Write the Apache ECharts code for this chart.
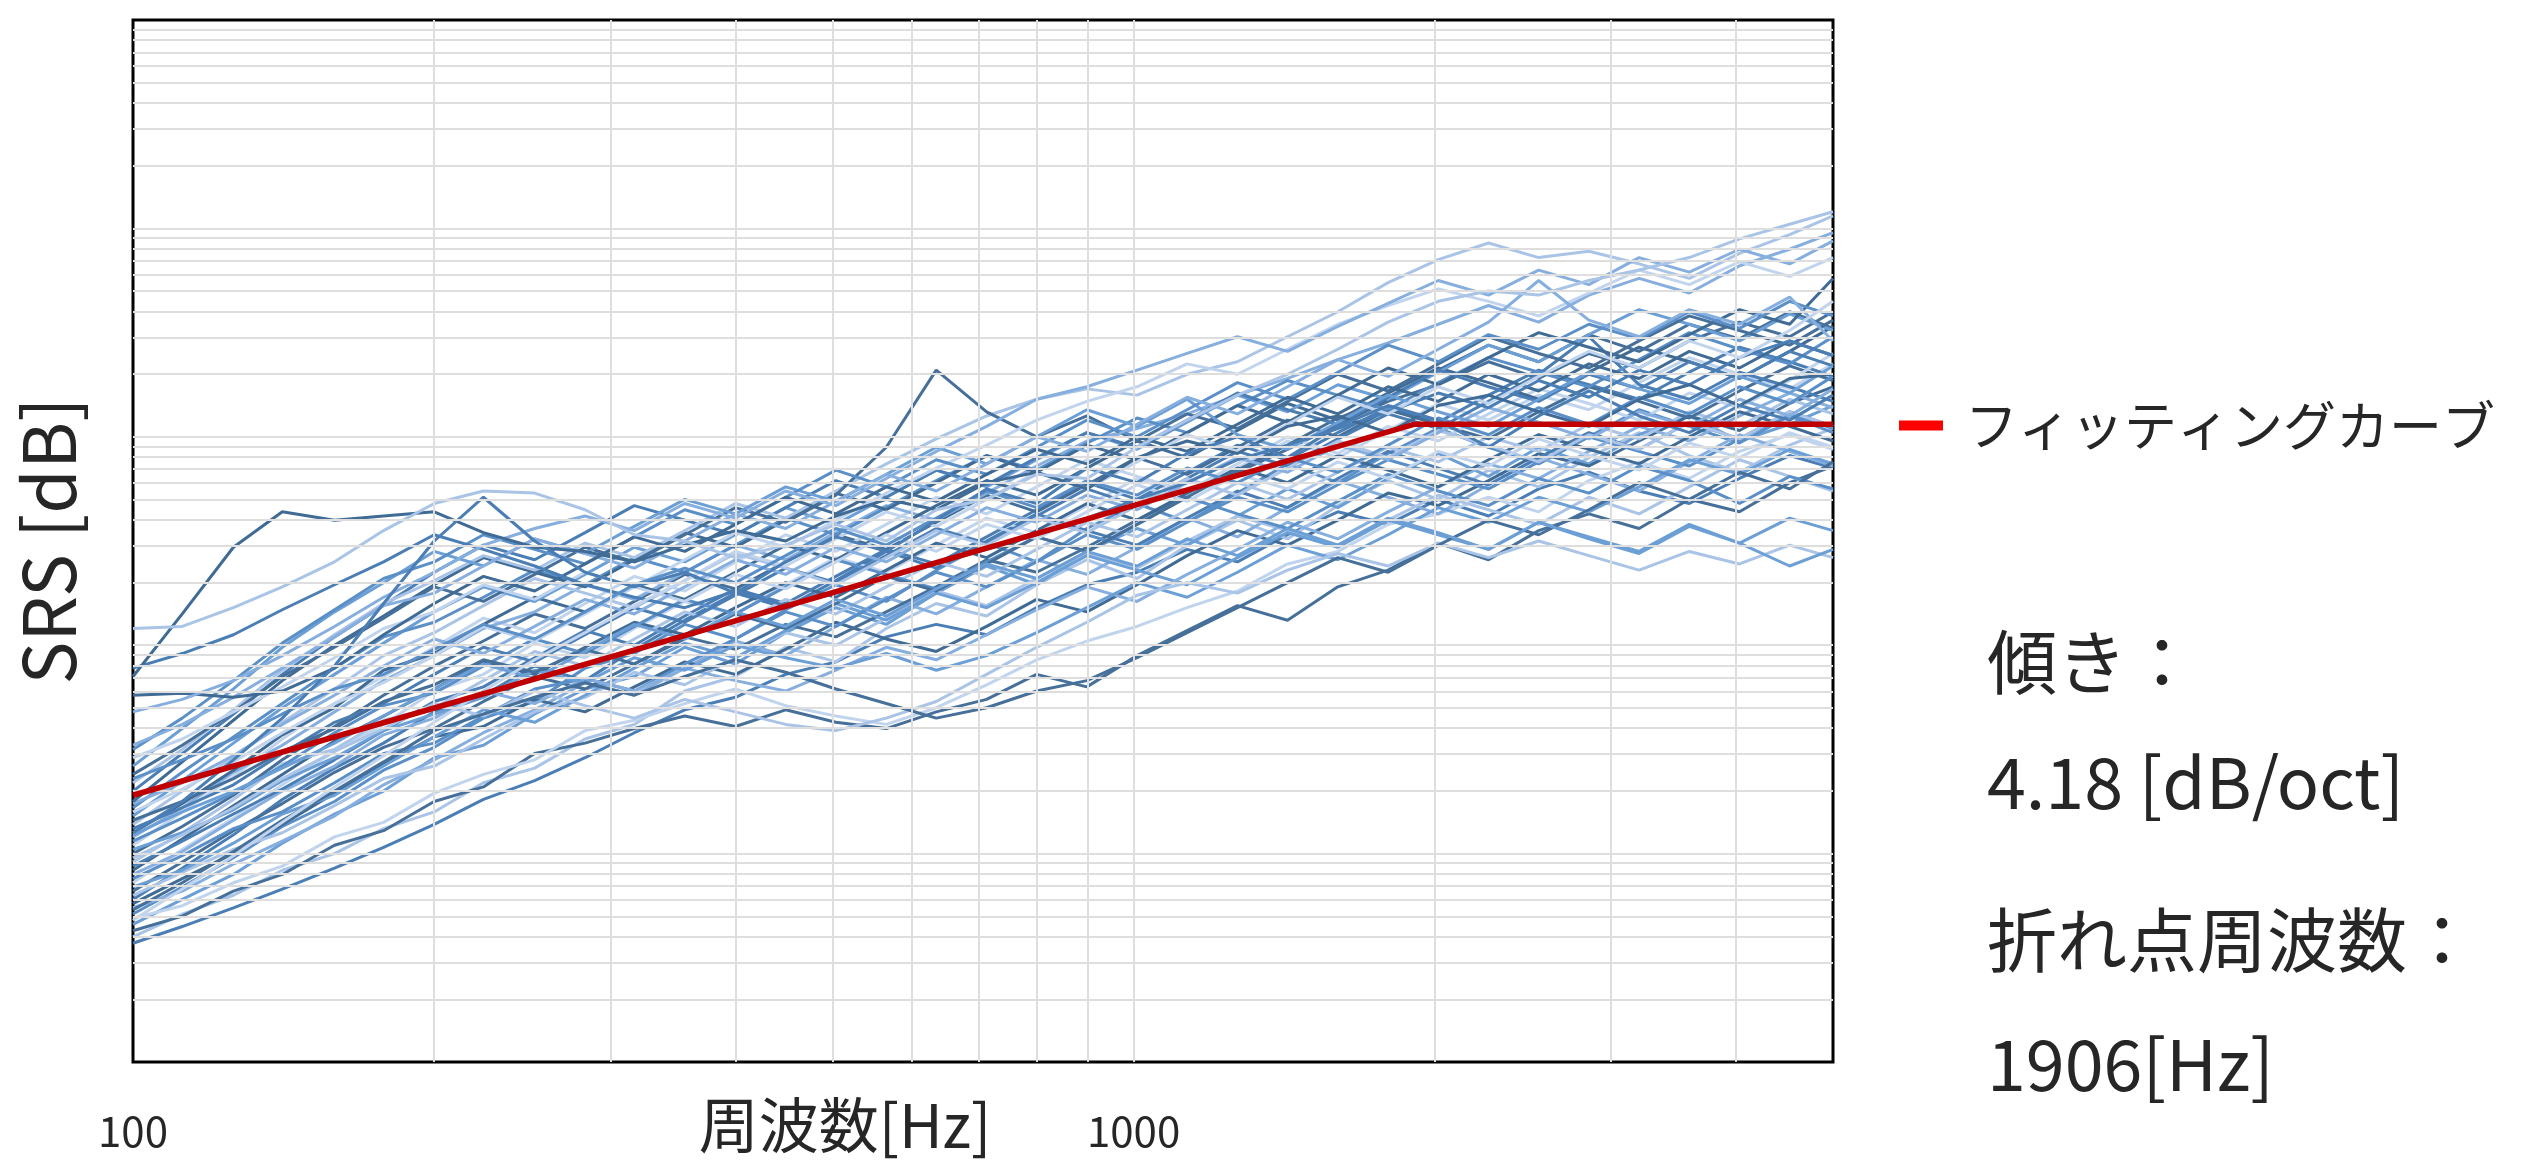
<!DOCTYPE html>
<html>
<head>
<meta charset="utf-8">
<script src="https://cdn.jsdelivr.net/npm/echarts@6/dist/echarts.min.js"></script>
<style>
html,body{margin:0;padding:0;background:#ffffff;}
#chart{width:2544px;height:1169px;}
</style>
</head>
<body>
<div id="chart"></div>
<script>
// ---- data (frequency in Hz, SRS level in dB) ----
const freqs = [100,112,126,141,159,178,200,224,252,283,317,356,400,449,504,566,635,713,800,898,1008,1131,1270,1425,1600,1796,2016,2263,2540,2851,3200,3592,4032,4525,5000];

const s01 = [5.7,6.5,7.4,8.3,9.3,10.3,11.4,12.6,13.5,14.6,15.8,16.9,17.5,18.6,19.2,20.4,21.0,20.5,21.8,22.9,23.5,24.6,24.0,25.3,26.4,25.8,27.0,26.2,27.5,28.3,27.4,26.8,28.0,29.1,28.5];
const s02 = [6.0,7.1,8.0,9.2,10.0,11.2,12.0,13.4,14.1,15.5,16.2,17.8,18.5,19.9,19.2,20.8,22.0,21.4,22.9,24.1,23.2,24.8,26.0,25.1,26.7,27.9,27.0,28.4,27.6,29.0,30.2,29.1,28.3,29.6,30.4];
const s03 = [6.3,7.0,8.2,9.0,10.4,11.1,12.5,13.2,14.8,15.3,16.0,16.6,16.1,16.9,16.3,16.0,16.8,17.4,18.6,18.0,19.5,20.7,21.9,21.2,22.8,23.6,24.9,24.1,25.5,26.3,25.6,27.0,26.4,27.8,28.6];
const s04 = [6.6,7.8,9.0,10.5,11.9,13.0,14.6,15.2,16.7,17.9,18.5,19.9,19.1,20.6,21.8,21.0,22.5,23.8,22.9,24.5,25.6,24.8,26.2,27.5,26.6,28.0,29.2,28.1,29.5,28.7,30.1,31.0,29.8,30.6,31.5];
const s05 = [6.9,7.5,8.6,9.4,10.8,11.5,12.9,13.8,14.5,15.9,16.4,17.2,17.9,17.1,16.6,16.2,17.0,18.1,19.3,20.2,20.9,21.8,22.6,23.9,24.5,25.8,26.3,27.1,26.4,27.9,28.8,28.0,29.3,30.1,29.4];
const s06 = [7.1,8.4,9.8,11.3,12.5,14.0,15.1,16.5,17.3,18.9,19.6,21.0,20.3,21.7,22.9,22.1,23.6,24.9,24.0,25.6,26.8,25.9,27.3,28.7,27.8,29.2,30.4,29.5,28.7,30.0,31.3,30.5,29.7,31.0,30.2];
const s07 = [7.4,8.2,9.5,10.6,11.8,13.3,14.5,15.8,16.9,18.2,17.6,18.9,20.2,19.5,20.9,22.3,21.5,22.8,24.1,23.4,24.7,26.1,25.2,26.6,27.9,27.1,26.3,27.7,29.0,28.2,27.4,28.8,30.1,29.3,28.6];
const s08 = [7.6,8.8,10.0,11.4,12.9,14.3,15.6,16.1,17.4,16.8,18.0,19.2,18.6,19.8,21.1,20.3,19.7,20.9,22.2,21.6,22.9,24.3,25.5,24.8,26.0,27.3,26.7,27.9,29.2,28.6,29.8,31.0,30.3,31.6,32.4];
const s09 = [7.8,9.3,10.9,12.6,14.1,15.3,16.8,17.6,19.0,18.3,19.8,21.2,22.5,21.8,23.1,24.5,23.7,25.0,26.3,25.5,24.8,26.1,27.4,26.6,28.0,29.3,28.5,27.7,29.0,30.2,29.4,30.7,29.9,31.2,30.5];
const s10 = [8.0,9.1,10.2,11.0,12.3,13.6,14.2,15.5,16.8,17.5,18.7,18.1,19.4,20.6,20.0,21.3,22.6,21.9,23.2,24.4,23.7,25.0,26.2,25.5,24.8,26.0,27.2,26.5,25.8,27.1,26.3,27.6,28.9,28.1,27.4];
const s11 = [8.2,9.6,11.1,12.4,13.9,15.1,16.0,17.3,18.5,17.9,19.1,20.4,19.8,21.0,20.4,21.6,22.8,24.1,23.5,24.7,26.0,27.2,28.3,29.4,30.6,31.7,32.5,33.6,32.8,34.0,33.3,34.6,35.5,34.8,36.0];
const s12 = [8.4,9.2,10.5,11.9,12.8,14.2,15.6,16.9,16.3,17.6,18.9,20.1,19.4,20.7,22.0,21.2,22.5,21.8,23.0,24.3,23.6,22.9,24.2,25.4,24.7,26.0,25.3,24.6,25.9,25.2,24.5,25.8,24.9,26.1,25.5];
const s13 = [8.6,10.2,11.7,13.3,14.9,16.2,17.8,18.6,20.1,19.4,20.8,22.1,21.5,22.9,24.2,23.5,24.8,26.1,25.4,26.7,28.0,27.2,28.5,29.8,29.0,30.3,31.6,30.8,32.0,31.3,32.6,33.8,33.0,32.3,33.5];
const s14 = [8.8,9.9,11.2,12.0,13.4,14.8,15.3,16.6,17.9,18.4,17.8,19.1,20.3,21.6,20.9,22.2,23.5,22.8,24.0,25.3,24.6,25.9,27.1,26.4,27.7,28.9,28.2,27.5,28.8,30.0,29.3,28.6,29.9,31.1,30.4];
const s15 = [9.0,10.1,11.6,13.0,14.2,15.7,16.5,17.8,17.2,18.4,17.8,18.9,18.3,17.8,18.8,19.9,19.3,20.5,21.7,22.8,22.1,23.4,24.6,25.9,25.1,26.4,27.6,28.7,28.0,29.3,30.5,29.8,31.0,32.1,31.4];
const s16 = [9.2,10.7,12.3,13.8,15.4,16.6,17.9,19.2,18.6,19.9,21.1,20.5,21.8,23.0,22.3,23.6,24.9,24.2,25.5,26.8,26.0,27.3,28.5,27.8,29.1,28.4,27.6,28.9,30.1,29.4,28.7,30.0,31.2,30.5,29.8];
const s17 = [9.4,10.6,11.9,13.1,14.5,15.9,17.3,18.0,19.4,20.7,20.0,21.4,22.7,22.0,23.3,24.6,23.9,25.2,26.5,27.8,27.0,28.3,29.6,28.9,30.2,31.4,30.7,32.0,33.2,32.5,31.8,33.1,34.3,33.6,32.9];
const s18 = [9.6,11.0,12.6,14.3,15.0,16.4,17.0,18.3,19.7,19.0,20.3,21.6,20.9,22.2,21.5,22.8,24.0,23.3,24.6,25.9,25.2,26.5,27.8,27.0,28.3,29.5,28.8,30.0,29.3,30.6,29.9,31.2,30.5,31.8,31.1];
const s19 = [10.0,11.3,12.8,14.5,16.1,17.6,19.0,20.2,21.5,20.8,22.1,23.4,22.7,24.0,25.3,24.6,25.9,27.2,26.4,27.7,29.0,28.2,29.5,30.8,30.0,31.3,30.6,29.9,31.2,32.4,31.7,30.9,32.2,33.4,32.7];
const s20 = [10.2,11.0,12.1,13.5,14.6,15.9,16.7,17.5,18.8,18.2,19.4,18.8,20.0,19.4,18.9,19.6,18.8,19.5,20.6,21.8,23.0,22.3,23.5,24.8,24.1,25.3,26.6,25.9,27.1,26.4,27.6,28.9,28.2,29.4,28.7];
const s21 = [10.4,12.0,13.7,15.5,17.2,18.5,19.9,21.3,20.6,22.0,23.3,22.6,24.0,25.3,24.5,25.8,27.1,26.3,27.6,28.9,28.1,27.4,28.7,30.0,29.2,30.5,29.8,31.1,32.3,31.6,30.8,32.1,31.4,32.7,34.0];
const s22 = [10.6,11.7,12.9,14.2,15.8,17.1,17.7,19.0,20.3,19.6,20.9,22.2,21.5,22.8,24.1,23.4,22.7,24.0,25.2,24.5,25.8,27.1,26.3,25.6,26.9,28.2,27.4,26.7,28.0,27.3,28.6,27.9,26.8,28.1,27.5];
const s23 = [10.8,12.2,13.9,15.2,16.8,18.3,19.5,20.8,21.6,22.9,22.2,23.5,24.8,24.1,25.4,26.7,26.0,27.3,28.6,29.8,30.4,31.1,32.0,32.8,33.7,34.5,35.4,36.3,35.5,36.8,37.6,36.9,38.2,39.0,39.8];
const s24 = [11.0,12.4,14.0,15.7,17.0,18.8,19.6,21.0,22.3,21.6,22.9,22.2,23.5,24.8,24.1,25.4,26.7,27.9,27.2,28.5,29.8,29.0,30.3,31.6,30.8,32.1,33.3,32.6,31.8,33.1,34.3,33.6,32.8,34.1,35.3];
const s25 = [11.2,12.2,13.3,14.8,16.3,17.2,18.6,19.9,19.2,20.5,21.8,21.1,22.4,23.7,23.0,24.3,25.6,24.9,26.2,27.5,26.7,28.0,29.3,28.6,29.9,31.1,30.4,31.7,33.0,34.8,32.5,31.8,33.1,32.4,31.7];
const s26 = [11.4,13.0,14.6,16.3,17.9,19.5,20.6,21.9,23.2,22.5,21.8,23.1,24.4,23.7,22.9,24.2,25.5,24.8,26.1,25.4,26.7,28.0,27.2,28.5,29.8,29.0,30.3,29.6,28.8,30.1,29.4,30.7,29.9,31.2,30.5];
const s27 = [11.6,12.5,13.6,14.9,16.0,17.3,18.1,19.3,18.7,19.8,19.1,20.3,21.5,20.8,22.0,23.3,22.6,23.9,25.2,24.5,25.8,27.1,28.4,29.6,30.9,31.8,33.2,34.4,33.6,34.9,34.1,35.4,34.7,36.0,35.2];
const s28 = [11.8,13.5,15.3,17.0,18.6,20.1,21.6,22.8,22.1,23.4,24.7,24.0,25.3,26.6,25.8,27.1,28.4,27.6,28.9,30.2,29.4,30.7,32.0,31.2,32.5,31.8,33.1,34.4,33.6,34.9,36.1,35.4,34.6,35.9,35.1];
const s29 = [12.0,13.1,14.4,15.8,17.2,18.2,19.5,20.9,20.2,21.5,22.8,22.1,23.4,22.7,24.0,25.3,24.5,25.8,25.1,26.4,27.7,26.9,28.2,27.5,28.8,28.0,29.3,28.6,29.9,29.1,28.4,29.7,29.0,30.2,29.5];
const s30 = [12.2,13.9,15.6,17.2,18.9,20.4,21.1,22.3,23.6,22.9,24.2,23.5,24.8,26.1,25.3,26.6,27.9,29.1,28.4,29.7,30.9,30.2,31.5,32.7,32.0,31.3,32.6,33.8,33.1,32.4,33.7,35.0,34.2,33.5,34.8];
const s31 = [12.4,13.4,14.7,16.2,17.6,19.0,20.3,19.6,20.9,22.2,21.5,22.8,24.1,23.4,24.7,24.0,25.3,26.6,25.9,27.2,26.5,27.8,29.0,28.3,29.6,28.9,30.2,31.4,30.7,29.9,31.2,30.5,31.8,31.0,32.3];
const s32 = [12.5,14.4,16.4,18.3,20.0,21.4,22.9,24.2,23.5,22.8,24.1,25.4,24.7,26.0,27.3,26.5,27.8,29.1,28.3,29.6,28.9,30.2,31.5,30.7,32.0,33.3,32.5,33.8,35.0,34.3,33.6,34.9,36.1,35.4,37.6];
const s33 = [13.0,14.8,16.7,18.6,20.4,21.9,23.5,24.8,24.1,25.4,26.7,26.0,25.3,26.6,27.9,27.1,28.4,27.7,29.0,30.2,29.5,30.8,32.1,31.3,30.6,31.9,33.2,32.4,31.7,33.0,32.3,33.6,32.8,34.1,33.4];
const s34 = [13.4,15.0,16.9,18.8,20.5,22.0,23.1,24.3,23.6,24.9,24.2,25.5,26.8,26.1,27.4,28.7,29.9,31.0,31.8,32.3,32.0,33.0,33.6,34.8,36.0,37.4,38.5,39.3,38.6,38.9,38.3,37.6,38.8,39.7,40.6];
const s35 = [13.8,15.2,16.8,18.5,19.9,21.3,22.8,22.1,23.4,24.7,24.0,25.3,26.6,25.9,27.2,29.5,33.2,31.2,30.0,31.0,29.8,31.1,30.4,31.7,33.0,32.2,33.5,34.8,34.0,33.3,34.6,35.8,35.1,34.4,35.6];
const s36 = [14.2,16.0,17.9,19.9,21.6,23.0,24.5,23.8,25.1,24.4,25.7,27.0,26.3,27.6,26.9,28.2,29.5,28.7,30.0,31.3,30.5,31.8,30.1,29.4,30.7,32.0,31.2,30.5,31.8,33.1,32.3,31.6,32.9,32.1,33.4];
const s37 = [14.6,15.5,16.8,18.0,19.4,20.8,21.6,22.9,22.2,23.5,22.8,24.1,25.4,24.7,26.0,27.3,28.5,29.6,30.8,31.7,32.4,33.5,33.0,34.2,35.4,36.3,37.1,36.5,35.8,36.9,38.0,37.3,38.4,37.7,38.6];
const s38 = [15.0,16.5,18.3,20.1,21.7,23.2,24.0,25.3,24.6,23.9,25.2,26.5,25.8,27.1,28.4,27.6,28.9,28.2,29.5,30.8,30.0,31.3,32.6,31.8,33.1,34.4,33.6,34.9,34.2,35.4,34.7,36.0,35.2,36.5,35.8];
const s39 = [15.2,16.2,17.5,18.9,20.4,21.9,22.5,23.8,25.1,24.4,23.7,25.0,26.3,25.6,26.9,28.2,27.4,28.7,30.0,29.3,30.6,31.9,31.1,32.4,33.7,32.9,34.2,35.5,37.5,35.6,34.8,36.1,35.4,36.7,34.6];
const s40 = [17.6,17.7,17.5,17.8,18.9,20.5,22.0,23.3,22.6,23.9,25.2,24.5,25.8,27.1,26.3,27.6,26.9,28.2,29.4,28.7,30.0,29.3,30.6,31.9,31.1,32.4,31.7,33.0,32.2,33.5,32.8,34.1,33.3,34.6,33.9];
const s41 = [18.9,19.6,20.5,21.7,22.9,24.0,25.3,24.6,23.8,22.9,22.3,21.8,22.6,21.9,22.5,23.2,23.9,24.6,25.3,26.1,27.0,27.8,28.9,29.6,30.4,31.2,32.1,31.4,32.7,31.9,33.2,32.5,33.8,34.6,33.9];
const s42 = [9.8,10.9,12.2,13.6,14.9,16.0,17.2,16.6,17.8,17.1,16.5,17.4,16.8,16.2,15.9,16.5,17.3,18.6,19.9,21.1,22.4,23.0,22.5,23.6,24.4,23.8,24.9,24.2,25.0,24.3,23.6,24.5,23.9,24.8,24.2];
const s43 = [7.3,8.6,10.1,11.6,13.0,14.4,15.9,16.7,17.5,18.2,17.6,18.5,19.3,18.7,17.9,17.2,16.5,17.0,17.8,18.3,19.4,20.6,21.8,23.0,24.2,23.5,24.8,26.0,25.3,26.5,27.8,27.0,28.3,27.5,28.8];
const s44 = [10.9,12.0,13.0,14.1,15.3,16.6,17.9,19.1,18.4,19.7,21.0,20.3,21.6,20.9,22.2,21.4,22.7,23.9,23.2,24.5,23.8,25.1,24.3,25.6,24.8,26.1,25.4,24.6,25.9,25.1,24.4,25.7,24.9,23.8,24.6];
const s45 = [6.8,8.3,9.9,11.5,13.2,14.7,16.3,17.8,19.3,20.6,21.9,23.1,24.5,23.8,25.1,26.4,25.7,27.0,28.3,27.5,28.8,30.1,29.3,30.6,31.9,31.1,32.4,31.6,32.9,34.1,33.3,34.6,33.8,35.1,36.5];
const s46 = [13.6,14.5,15.5,16.7,17.9,18.6,19.8,21.0,20.3,21.6,22.9,23.7,23.0,24.3,25.6,24.8,26.1,27.4,26.6,27.9,27.2,28.5,27.8,29.0,28.3,29.6,30.9,30.1,31.4,30.6,31.9,31.1,32.4,31.6,32.9];
const s47 = [16.8,17.4,18.3,19.5,20.9,22.3,23.5,24.8,25.6,26.2,25.5,26.8,26.1,27.4,26.7,28.0,29.3,30.5,31.8,32.4,33.2,34.0,34.8,34.1,35.3,36.4,37.5,36.8,38.0,37.3,38.6,37.9,39.0,38.3,39.4];
const s48 = [18.5,21.5,24.7,26.4,26.0,26.2,26.4,25.4,24.7,24.5,24.0,24.8,25.5,25.0,26.2,27.0,26.5,27.8,28.3,27.5,29.0,29.8,29.2,30.5,31.0,30.2,31.5,32.0,31.2,30.5,31.8,32.5,31.5,32.8,33.0];
const s49 = [11.0,12.5,14.5,16.5,19.0,22.0,25.0,27.1,25.0,23.5,22.8,23.5,22.5,24.0,25.2,24.5,26.0,27.5,26.8,28.5,27.8,29.2,30.0,29.0,30.5,31.5,30.8,29.5,31.0,32.2,31.0,30.2,31.5,30.8,32.0];
const s50 = [20.8,20.9,21.8,22.8,24.0,25.5,26.8,27.4,27.3,26.5,25.3,25.0,24.2,24.8,25.8,25.0,26.5,27.0,28.2,28.0,29.5,30.8,32.0,33.0,34.2,35.5,36.5,37.0,36.8,37.5,38.0,38.6,39.5,40.2,40.8];

const curves = [s01,s02,s03,s04,s05,s06,s07,s08,s09,s10,s11,s12,s13,s14,s15,s16,s17,s18,s19,s20,
                s21,s22,s23,s24,s25,s26,s27,s28,s29,s30,s31,s32,s33,s34,s35,s36,s37,s38,s39,s40,
                s41,s42,s43,s44,s45,s46,s47,s48,s49,s50];

// fitting curve (slope 4.18 dB/oct, break point 1906 Hz)
const fitFreqs = [100, 1906, 5000];
const fitDb = [12.8, 30.6, 30.6];

// axis ticks (log grid)
const xGridTicks = [200,300,400,500,600,700,800,900,1000,2000,3000,4000];
const yDecades = [1,10,100,1000,10000];
const yMultipliers = [1,2,3,4,5,6,7,8,9];

const fitName = 'フィッティングカーブ';
const infoLines = ['傾き：', '4.18 [dB/oct]', '折れ点周波数：', '1906[Hz]'];

// ---- build chart ----
const FONT = '"Noto Sans CJK JP", "Noto Sans", sans-serif';
const TEXT = '#262626';
const palette = ['#4a7eb5','#a9c4e6','#46709a','#6b9fd6','#c1d4ee','#5a8fc8','#86aede','#3f6b95'];
const toLin = db => Math.pow(10, db / 10);

const yGridTicks = [];
yDecades.forEach(d => yMultipliers.forEach(m => { const v = d * m; if (v > 1) yGridTicks.push(v); }));

const series = [];
series.push({
  name: 'grid', type: 'line', data: [], silent: true, z: 1,
  markLine: {
    silent: true, animation: false, symbol: ['none', 'none'],
    label: { show: false },
    emphasis: { disabled: true },
    lineStyle: { color: '#dedede', width: 2, type: 'solid' },
    data: yGridTicks.map(v => ({ yAxis: v })).concat(xGridTicks.map(v => ({ xAxis: v })))
  }
});
curves.forEach((c, i) => {
  const col = palette[i % palette.length];
  series.push({
    name: 'SRS ' + (i + 1), type: 'line', symbol: 'none', showSymbol: false,
    silent: true, z: 2, animation: false,
    emphasis: { disabled: true },
    data: c.map((d, j) => [freqs[j], toLin(d)]),
    lineStyle: { width: 3, color: col },
    itemStyle: { color: col }
  });
});
series.push({
  name: fitName, type: 'line', symbol: 'none', showSymbol: false, z: 5, animation: false,
  data: fitDb.map((d, j) => [fitFreqs[j], toLin(d)]),
  lineStyle: { width: 5.5, color: '#c00000' },
  itemStyle: { color: '#ff0000' }
});

const infoY = [662, 782, 940, 1064];
const graphic = infoLines.map((t, i) => ({
  type: 'text', x: 1987, y: infoY[i], silent: true,
  style: { text: t, fontSize: 70, fontFamily: FONT, fill: TEXT, verticalAlign: 'middle', align: 'left' }
}));

const chart = echarts.init(document.getElementById('chart'), null, { renderer: 'canvas' });
chart.setOption({
  animation: false,
  backgroundColor: '#ffffff',
  grid: { left: 133, top: 20, width: 1700, height: 1042, show: true, borderColor: '#000000', borderWidth: 3,
          backgroundColor: 'transparent', containLabel: false, outerBoundsMode: 'none' },
  legend: {
    data: [{ name: fitName, icon: 'rect', itemStyle: { color: '#ff0000' } }],
    left: 1894, top: 394, itemWidth: 44, itemHeight: 10,
    selectedMode: false,
    textStyle: { fontSize: 53, color: TEXT, fontFamily: FONT, padding: [0, 0, 0, 17] }
  },
  xAxis: {
    type: 'log', logBase: 10, min: 100, max: 5000,
    name: '周波数[Hz]', nameLocation: 'middle', nameGap: 33, nameMoveOverlap: false,
    nameTextStyle: { fontSize: 60, color: TEXT, fontFamily: FONT, padding: [0, 276, 0, 0] },
    axisLine: { show: false }, axisTick: { show: false }, splitLine: { show: false },
    axisLabel: { fontSize: 42, color: TEXT, fontFamily: FONT, margin: 48, showMaxLabel: false,
                 formatter: v => String(Math.round(v)) }
  },
  yAxis: {
    type: 'log', logBase: 10, min: 1, max: 100000,
    name: 'SRS [dB]', nameLocation: 'middle', nameGap: 48, nameMoveOverlap: false,
    nameTextStyle: { fontSize: 72, color: TEXT, fontFamily: FONT },
    axisLine: { show: false }, axisTick: { show: false }, splitLine: { show: false },
    axisLabel: { show: false }
  },
  graphic: graphic,
  series: series
});
</script>
</body>
</html>
